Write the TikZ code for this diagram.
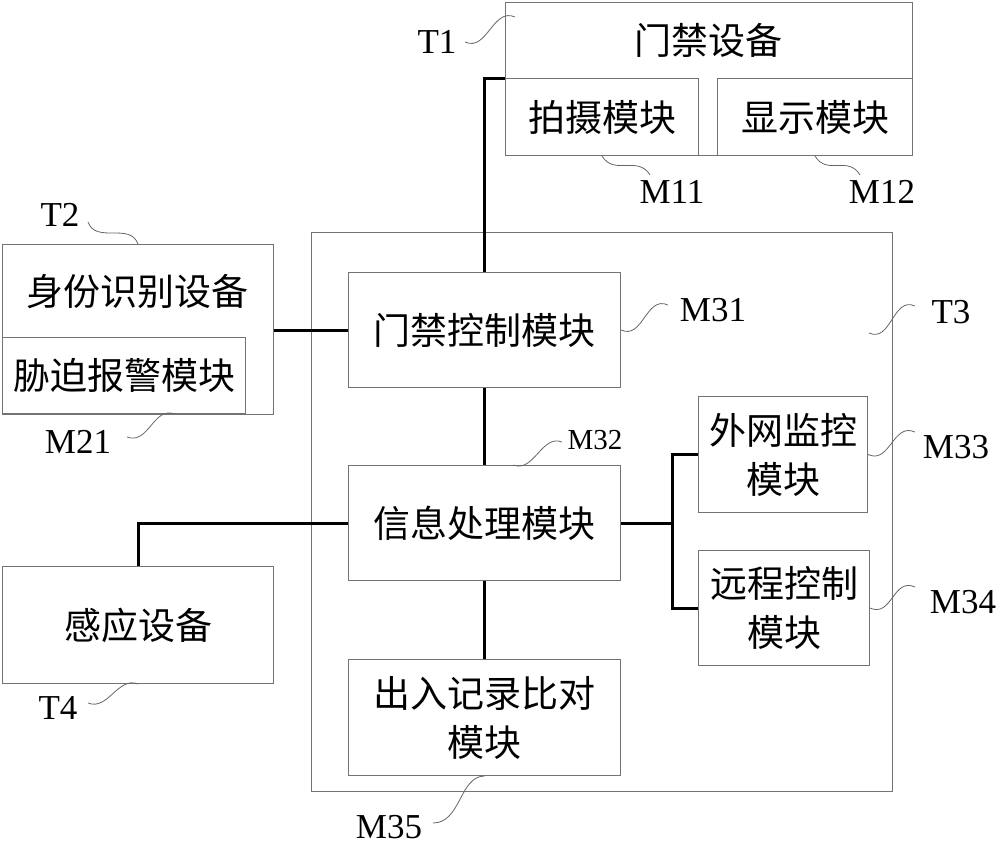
\documentclass[tikz,border=0pt]{standalone}
\usepackage{fontspec}
\setmainfont{Liberation Serif}
\newfontfamily\cjk{Noto Sans CJK SC}
\usetikzlibrary{positioning}

\begin{document}
\begin{tikzpicture}[x=1pt,y=-1pt,
    box/.style={draw=black!55,line width=1pt,inner sep=0pt,anchor=north west,
        align=center,font=\cjk\fontsize{37}{49}\selectfont},
    txt/.style={inner sep=0pt,font=\cjk\fontsize{37}{49}\selectfont},
    lab/.style={inner sep=0pt,font=\fontsize{35}{35}\selectfont},
    link/.style={line width=3pt},
    leader/.style={draw=black!60,line width=0.8pt}]
    \useasboundingbox (0,0) rectangle (1000,852);

    % devices
    \node[box,minimum width=407pt,minimum height=153pt] (t1) at (505,2) {};
    \node[txt] (t1txt) at (708,40) {门禁设备};
    \node[box,minimum width=193pt,minimum height=77pt] (m11) at (505,78) {拍摄模块};
    \node[box,minimum width=195pt,minimum height=77pt] (m12) at (717,78) {显示模块};

    \node[box,minimum width=271pt,minimum height=170pt] (t2) at (2,244) {};
    \node[txt] (t2txt) at (137,292) {身份识别设备};
    \node[box,minimum width=243pt,minimum height=76pt] (m21) at (2,337) {胁迫报警模块};

    \node[box,minimum width=271pt,minimum height=117pt] (t4) at (2,566) {感应设备};

    % server
    \node[box,minimum width=581pt,minimum height=559pt] (t3) at (311,232) {};
    \node[box,minimum width=272pt,minimum height=115pt] (m31) at (348,272) {门禁控制模块};
    \node[box,minimum width=272pt,minimum height=115pt] (m32) at (348,465) {信息处理模块};
    \node[box,minimum width=272pt,minimum height=116pt] (m35) at (348,659) {出入记录比对\\模块};
    \node[box,minimum width=169pt,minimum height=116pt] (m33) at (698,396) {外网监控\\模块};
    \node[box,minimum width=171pt,minimum height=115pt] (m34) at (698,550) {远程控制\\模块};

    \draw[link] (m11.north west) -| (m31.north);
    \draw[link] (m31.west) -- (m31.west -| t2.east);
    \draw[link] (m31.south) -- (m32.north);
    \draw[link] (m32.south) -- (m35.north);
    \draw[link] (m32.west) -| (t4.north);
    \draw[link] (m32.east) -- ++(51,0) coordinate (fork);
    \draw[link] (m33.west) -| (fork) |- (m34.west);

    % reference signs
    \node[lab] (t1lab) at (437,42) {T1};
    \node[lab] (m11lab) at (672,192) {M11};
    \node[lab] (m12lab) at (882,192) {M12};
    \node[lab] (t2lab) at (60,215) {T2};
    \node[lab] (m21lab) at (78,442) {M21};
    \node[lab] (m31lab) at (713,310) {M31};
    \node[lab] (t3lab) at (951,312) {T3};
    \node[lab,font=\fontsize{29}{29}\selectfont] (m32lab) at (595,440) {M32};
    \node[lab] (m33lab) at (956,447) {M33};
    \node[lab] (m34lab) at (963,602) {M34};
    \node[lab] (m35lab) at (389,827) {M35};
    \node[lab] (t4lab) at (58,708) {T4};

    \draw[leader] (t1lab) ++(28,0) .. controls +(22,10) and +(-22,-10) .. ([shift={(10,15)}]t1.north west);
    \draw[leader] (m11lab) ++(-22,-17) .. controls +(-12,-20) and +(12,20) .. ([xshift=97pt]m11.south west);
    \draw[leader] (m12lab) ++(-22,-17) .. controls +(-12,-20) and +(12,20) .. ([xshift=98pt]m12.south west);
    \draw[leader] (t2lab) ++(28,7) .. controls +(8,22) and +(-8,-22) .. (t2.north);
    \draw[leader] (m21lab) ++(49,-5) .. controls +(22,8) and +(-22,-8) .. ([xshift=51pt]m21.south);
    \draw[leader] (m31lab) ++(-45,-5) .. controls +(-22,-10) and +(22,10) .. (m31.east);
    \draw[leader] (t3lab) ++(-36,-6) .. controls +(-22,-10) and +(22,10) .. ([shift={(-24,101)}]t3.north east);
    \draw[leader] (m32lab) ++(-33,2) .. controls +(-20,-8) and +(20,8) .. ([xshift=29pt]m32.north);
    \draw[leader] (m33lab) ++(-41,-15) .. controls +(-22,-10) and +(22,10) .. (m33.east);
    \draw[leader] (m34lab) ++(-48,-15) .. controls +(-22,-10) and +(22,10) .. (m34.east);
    \draw[leader] (m35lab) ++(44,-4) .. controls +(28,0) and +(-25,0) .. (m35.south);
    \draw[leader] (t4lab) ++(30,-5) .. controls +(20,8) and +(-20,-8) .. (t4.south);
\end{tikzpicture}
\end{document}
